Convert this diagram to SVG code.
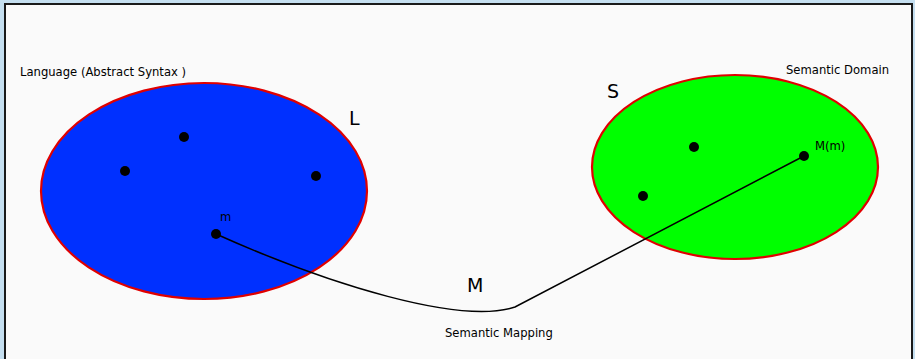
<svg xmlns="http://www.w3.org/2000/svg" width="915" height="359" viewBox="0 0 915 359">
<style>
text{font-family:"DejaVu Sans","Liberation Sans",sans-serif;fill:#000}
.lbl{font-size:11.6px}
.big{font-size:19px}
.dot{fill:#000}
.set{stroke:#e00000;stroke-width:2.2}
</style>
<rect x="0" y="0" width="915" height="359" fill="#c5dff0"/>
<rect x="5" y="4" width="907" height="360" fill="#fafafa" stroke="#1a1a1a" stroke-width="2"/>
<g id="L">
<ellipse cx="204" cy="191" rx="163" ry="108" fill="#0030ff" class="set"/>
<text x="349" y="125" class="big">L</text>
<text x="20" y="76" class="lbl">Language (Abstract Syntax )</text>
</g>
<g id="S">
<ellipse cx="735" cy="167" rx="143" ry="92" fill="#00ff00" class="set"/>
<text x="607" y="98" class="big">S</text>
<text x="786" y="74" class="lbl">Semantic Domain</text>
</g>
<g id="connectors">
<path d="M216,234 C330,285 460,325 515,307 L804,156" fill="none" stroke="#000" stroke-width="1.5"/>
</g>
<g id="dots">
<circle cx="184" cy="137" r="5" class="dot"/>
<circle cx="125" cy="171" r="5" class="dot"/>
<circle cx="316" cy="176" r="5" class="dot"/>
<circle cx="216" cy="234" r="5" class="dot"/>
<circle cx="694" cy="147" r="5" class="dot"/>
<circle cx="643" cy="196" r="5" class="dot"/>
<circle cx="804" cy="156" r="5" class="dot"/>
</g>
<g id="labels">
<text x="220" y="221" class="lbl">m</text>
<text x="815" y="150" class="lbl">M(m)</text>
<text x="467" y="292" class="big">M</text>
<text x="445" y="337" class="lbl">Semantic Mapping</text>
</g>
</svg>
